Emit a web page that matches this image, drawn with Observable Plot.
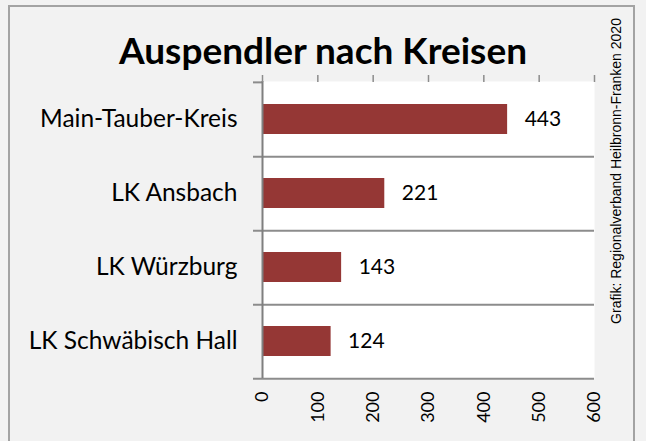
<!DOCTYPE html>
<html>
<head>
<meta charset="utf-8">
<script src="https://cdn.jsdelivr.net/npm/d3@7"></script>
<script src="https://cdn.jsdelivr.net/npm/@observablehq/plot@0.6"></script>
<style>
  html, body { margin: 0; padding: 0; background: #f2f2f2; }
  #wrap { position: relative; width: 646px; height: 441px; overflow: hidden; background: #f2f2f2; }
  #border { position: absolute; left: 8px; top: 5px; width: 627px; height: 460px; border: 2px solid #a3a3a3; box-sizing: border-box; }
  #title { position: absolute; left: 0; top: 28px; width: 646px; text-align: center; font: bold 37px Lato, sans-serif; line-height: 44px; color: #000; }
  #caption { position: absolute; left: 616px; top: 171px; transform: translate(-50%, -50%) rotate(-90deg); white-space: nowrap; font: 14px "Liberation Sans", Arial, sans-serif; line-height: 15px; color: #000; }
  #chart { position: absolute; left: 0; top: 0; }
</style>
</head>
<body>
<div id="wrap">
  <div id="border"></div>
  <div id="chart"></div>
  <div id="title">Auspendler nach Kreisen</div>
  <div id="caption">Grafik: Regionalverband Heilbronn-Franken 2020</div>
</div>
<script>
const categories = ["Main-Tauber-Kreis", "LK Ansbach", "LK Würzburg", "LK Schwäbisch Hall"];
const values = [443, 221, 143, 124];
const xTicks = [0, 100, 200, 300, 400, 500, 600];

const data = categories.map((name, i) => ({name, value: values[i]}));

const W = 646, H = 441, mL = 262, mR = 52, mT = 81, mB = 63;
const bw = (H - mT - mB) / categories.length;
const gridColor = "#8c8c8c";

const chart = Plot.plot({
  width: W,
  height: H,
  marginLeft: mL,
  marginRight: mR,
  marginTop: mT,
  marginBottom: mB,
  style: {fontFamily: "Lato, sans-serif", background: "transparent", color: "#000"},
  x: {domain: [0, 600]},
  y: {domain: categories, type: "band", paddingInner: 0, paddingOuter: 0},
  marks: [
    Plot.frame({fill: "white", stroke: "none"}),
    Plot.barX(data, {x: "value", y: "name", fill: "#953735", insetTop: 22, insetBottom: 22}),
    Plot.ruleY(data, {y: "name", dy: bw / 2, x1: 0, x2: 600, insetLeft: -9, stroke: gridColor, strokeWidth: 2}),
    Plot.ruleY([categories[0]], {y: d => d, dy: -bw / 2, x1: 0, x2: 0, insetLeft: -9, stroke: gridColor, strokeWidth: 2}),
    Plot.ruleX([0], {stroke: "#7f7f7f", strokeWidth: 2}),
    Plot.axisX({anchor: "top", ticks: xTicks, tickSize: 7, tickFormat: () => "", stroke: gridColor, strokeWidth: 1.5, label: null}),
    Plot.axisX({anchor: "bottom", ticks: xTicks, tickSize: 0, tickPadding: 13, tickRotate: -90, fontSize: 18, label: null, fill: "#000"}),
    Plot.axisY({tickSize: 0, tickPadding: 25, fontSize: 24.5, label: null, fill: "#000"}),
    Plot.text(data, {x: "value", y: "name", text: d => String(d.value), textAnchor: "start", dx: 17, fontSize: 21, fill: "#000"})
  ]
});
document.getElementById("chart").appendChild(chart);
</script>
</body>
</html>
